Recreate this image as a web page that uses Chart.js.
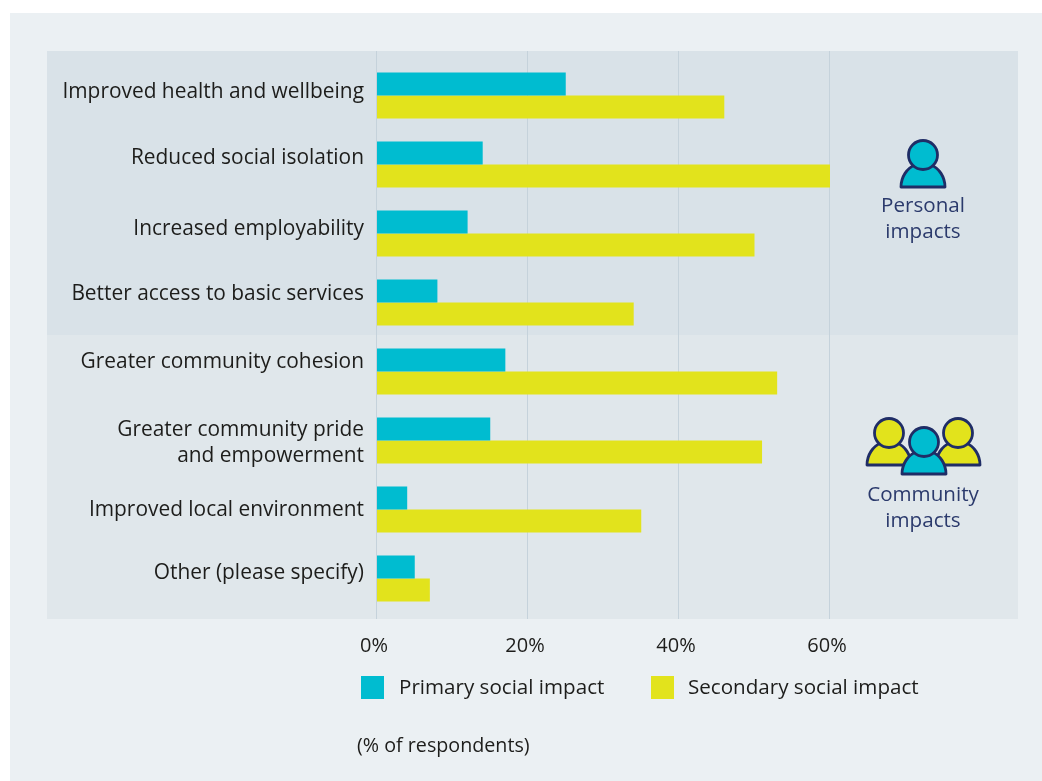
<!DOCTYPE html>
<html>
<head>
<meta charset="utf-8">
<title>Social impacts</title>
<script src="https://cdn.jsdelivr.net/npm/chart.js@4/dist/chart.umd.min.js"></script>
<style>
  html, body { margin: 0; padding: 0; background: #fff; }
  body { width: 1042px; height: 781px; position: relative; overflow: hidden; font-family: "Open Sans", sans-serif; }
  #panel { position: absolute; left: 10px; top: 13px; width: 1032px; height: 768px; background: #ebf0f3; }
  .band { position: absolute; left: 47px; width: 971px; height: 284px; }
  #bandTop { top: 51px; background: #d9e2e8; }
  #bandBottom { top: 335px; background: #e0e7eb; }
  canvas { position: absolute; left: 0; top: 0; }
  .txt { position: absolute; font-size: 20.6px; line-height: 26px; white-space: nowrap; color: #1d1d1b; }
  .group { color: #2b3a6c; text-align: center; width: 160px; left: 843px; }
  .swatch { position: absolute; width: 23px; height: 23px; top: 676px; }
  svg { position: absolute; left: 0; top: 0; }
</style>
</head>
<body>
<div id="panel"></div>
<div class="band" id="bandTop"></div>
<div class="band" id="bandBottom"></div>
<canvas id="chart" width="1042" height="781"></canvas>
<svg width="1042" height="781" fill="none" stroke="#1f2d66" stroke-width="2.8" stroke-linejoin="round">
  <defs>
    <g id="person">
      <path d="M-22 32 C-22 22 -16 13 -8 10 L8 10 C16 13 22 22 22 32 Z"></path>
      <circle cx="0" cy="0" r="14.5"></circle>
    </g>
  </defs>
  <use href="#person" x="923" y="155" fill="#00bcd0"></use>
  <use href="#person" x="889" y="433" fill="#e2e31c"></use>
  <use href="#person" x="958" y="433" fill="#e2e31c"></use>
  <use href="#person" x="924" y="442" fill="#00bcd0"></use>
</svg>
<div class="txt group" style="top:191px">Personal<br>impacts</div>
<div class="txt group" style="top:480px">Community<br>impacts</div>
<div class="swatch" style="left:361px;background:#00bcd0"></div>
<div class="txt" id="legend1" style="left:399px;top:673px"></div>
<div class="swatch" style="left:651px;background:#e2e31c"></div>
<div class="txt" id="legend2" style="left:688px;top:673px"></div>
<div class="txt" style="left:357px;top:732px;font-size:19.7px">(% of respondents)</div>

<script>
const categories = [
    'Improved health and wellbeing',
    'Reduced social isolation',
    'Increased employability',
    'Better access to basic services',
    'Greater community cohesion',
    ['Greater community pride', 'and empowerment'],
    'Improved local environment',
    'Other (please specify)'
];
const primaryValues = [25, 14, 12, 8, 17, 15, 4, 5];
const secondaryValues = [46, 60, 50, 34, 53, 51, 35, 7];
const seriesNames = ['Primary social impact', 'Secondary social impact'];
const xTicks = [0, 20, 40, 60];

// labels in the original do not sit exactly on the bar centres
const labelNudge = [-3.5, -6.5, -4.5, -8.5, -9.5, 2.5, 0.5, -5.5];

document.getElementById('legend1').textContent = seriesNames[0];
document.getElementById('legend2').textContent = seriesNames[1];

// grid lines run over the whole band, and the category labels
const bandPlugin = {
    id: 'bandPlugin',
    beforeDatasetsDraw(chart) {
        const ctx = chart.ctx;
        ctx.save();
        ctx.strokeStyle = '#c5d2db';
        ctx.lineWidth = 1;
        xTicks.forEach(t => {
            const x = Math.round(chart.scales.x.getPixelForValue(t)) - 0.5;
            ctx.beginPath();
            ctx.moveTo(x, 51);
            ctx.lineTo(x, 619);
            ctx.stroke();
        });
        ctx.restore();
    },
    afterDraw(chart) {
        const ctx = chart.ctx;
        const yScale = chart.scales.y;
        ctx.save();
        ctx.fillStyle = '#1d1d1b';
        ctx.font = '20.9px "Open Sans"';
        ctx.textAlign = 'right';
        ctx.textBaseline = 'middle';
        categories.forEach((label, i) => {
            const y = yScale.getPixelForValue(i) + labelNudge[i];
            const lines = Array.isArray(label) ? label : [label];
            lines.forEach((line, j) => {
                ctx.fillText(line, 364, y + (j - (lines.length - 1) / 2) * 26);
            });
        });
        ctx.restore();
    }
};

new Chart(document.getElementById('chart'), {
    type: 'bar',
    data: {
        labels: categories,
        datasets: [
            { label: seriesNames[0], data: primaryValues, backgroundColor: '#00bcd0' },
            { label: seriesNames[1], data: secondaryValues, backgroundColor: '#e2e31c' }
        ]
    },
    options: {
        indexAxis: 'y',
        responsive: false,
        animation: false,
        layout: { padding: { left: 377, top: 61, right: 24, bottom: 0 } },
        datasets: { bar: { barPercentage: 1, categoryPercentage: 0.667 } },
        plugins: { legend: { display: false }, tooltip: { enabled: false } },
        scales: {
            x: {
                min: 0,
                max: 84.9,
                grid: { display: false },
                border: { display: false },
                afterBuildTicks(scale) {
                    scale.ticks = xTicks.map(v => ({ value: v }));
                },
                afterFit(scale) { scale.height = 168; },
                ticks: {
                    padding: 13,
                    labelOffset: -3,
                    maxRotation: 0,
                    color: '#1d1d1b',
                    font: { family: 'Open Sans', size: 20 },
                    callback: v => v + '%'
                }
            },
            y: {
                grid: { display: false },
                border: { display: false },
                ticks: { display: false },
                afterFit(scale) { scale.width = 0; }
            }
        }
    },
    plugins: [bandPlugin]
});
</script>
</body>
</html>
